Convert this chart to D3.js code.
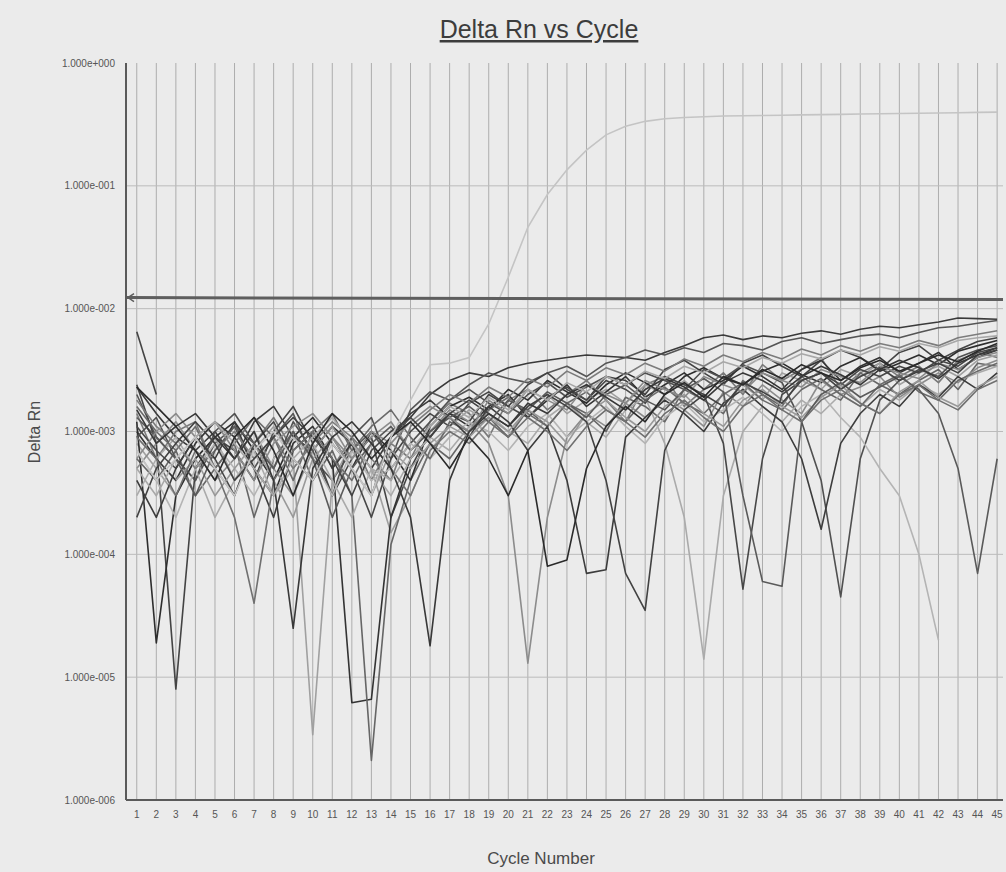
<!DOCTYPE html>
<html>
<head>
<meta charset="utf-8">
<script src="https://cdn.jsdelivr.net/npm/d3@7"></script>
<style>
  body { margin: 0; background: #ebebeb; }
  svg { display: block; font-family: "Liberation Sans", Arial, sans-serif; }
  .grid line { stroke: #adadad; stroke-width: 1; }
  .tick-label { fill: #555; font-size: 10px; }
</style>
</head>
<body>
<svg id="chart" width="1006" height="872"></svg>
<script>
// cycles 1..45, Delta Rn values in units of 1e-4 (null = not plotted, negative on log scale)
var cycles = d3.range(1, 46);
var yTicks = [1e-6, 1e-5, 1e-4, 1e-3, 1e-2, 1e-1, 1];
var threshold = 123;

// the one amplifying well
var ampWell = [7, 4, 6, 9, 5, 3, 7, 10, 6, 4, 8, 5, 3, 9, 18, 35, 36, 40, 75, 180, 460, 850, 1350, 1950, 2600, 3050, 3350, 3520, 3600, 3650, 3700, 3720, 3740, 3760, 3780, 3800, 3820, 3840, 3860, 3880, 3900, 3920, 3940, 3960, 3980];

// baseline wells
var well01 = [23, 14, 9, 7, 10, 6, 12, 16, 9, 7, 11, 8, 5, 9, 13, 20, 26, 30, 28, 33, 36, 38, 40, 42, 41, 40, 38, 44, 50, 58, 61, 56, 60, 58, 63, 66, 62, 68, 72, 70, 74, 78, 84, 83, 82];
var well02 = [20, 9, 6, 4, 8, 11, 5, 9, 14, 6, 4, 7, 10, 6, 15, 21, 18, 24, 30, 27, 25, 30, 34, 28, 36, 40, 46, 42, 48, 44, 52, 50, 46, 54, 58, 52, 56, 60, 62, 58, 64, 70, 72, 76, 80];
var well03 = [14, 6, 10, 12, 5, 3, 8, 13, 7, 10, 5, 9, 4, 8, 6, 12, 17, 14, 9, 18, 22, 15, 20, 26, 18, 12, 24, 28, 16, 22, 30, 20, 35, 26, 32, 40, 22, 30, 36, 28, 34, 25, 38, 44, 40];
var well04 = [24, 8, 0.08, 5, 9, 7, 4, 10, 16, 8, 3, 6, 9, 2, 5, 10, 14, 12, 20, 16, 24, 30, 22, 18, 28, 26, 20, 32, 38, 30, 24, 36, 42, 34, 28, 38, 46, 40, 32, 44, 50, 38, 46, 54, 58];
var well05 = [8, 5, 3, 6, 9, 4, 7, 11, 6, 0.034, 4, 8, 5, 1.5, 3, 7, 11, 15, 12, 9, 16, 20, 14, 18, 22, 17, 24, 20, 26, 19, 28, 24, 18, 30, 26, 22, 32, 28, 36, 24, 30, 34, 28, 38, 42];
var well06 = [10, 6, 4, 8, 12, 9, 5, 3, 8, 11, 6, 0.062, 0.066, 2, 6, 9, 14, 11, 16, 20, 13, 18, 24, 16, 21, 28, 19, 24, 30, 22, 26, 34, 28, 22, 32, 38, 26, 34, 40, 30, 36, 44, 32, 40, 46];
var well07 = [6, 4, 7, 3, 5, 8, 2, 6, 10, 4, 7, 3, 0.021, 1.2, 4, 8, 6, 10, 13, 9, 15, 11, 17, 14, 10, 19, 16, 12, 22, 18, 14, 26, 20, 16, 28, 22, 18, 30, 24, 20, 26, 32, 22, 36, 34];
var well08 = [12, 0.19, 3, 6, 9, 12, 7, 4, 9, 13, 8, 5, 10, 7, 4, 11, 16, 19, 15, 22, 18, 26, 21, 17, 24, 30, 25, 20, 28, 33, 27, 24, 31, 36, 29, 25, 34, 40, 31, 36, 42, 35, 45, 50, 55];
var well09 = [5, 8, 12, 7, 4, 6, 10, 5, 3, 7, 11, 6, 9, 12, 7, 10, 15, 12, 8, 3, 0.13, 2, 9, 14, 11, 17, 13, 19, 15, 11, 21, 16, 24, 18, 14, 26, 20, 23, 28, 19, 24, 30, 25, 33, 38];
var well10 = [9, 13, 6, 4, 10, 14, 8, 5, 12, 7, 3, 9, 13, 5, 8, 12, 18, 22, 17, 14, 20, 25, 19, 23, 28, 24, 30, 26, 22, 32, 27, 35, 30, 25, 12, 4, 0.45, 6, 18, 26, 32, 28, 40, 46, 50];
var well11 = [3, 6, 9, 5, 2, 4, 7, 3, 5, 8, 4, 2, 5, 3, 6, 9, 7, 11, 14, 10, 8, 13, 17, 12, 9, 15, 19, 8, 2, 0.14, 3, 10, 16, 12, 18, 14, 20, 16, 22, 18, 24, 20, 26, 30, 34];
var well12 = [11, 7, 5, 9, 6, 3, 8, 12, 6, 4, 9, 5, 2, 6, 10, 14, 11, 17, 21, 16, 13, 19, 23, 18, 26, 22, 17, 28, 24, 20, 8, 0.52, 6, 20, 26, 30, 24, 32, 28, 34, 30, 38, 34, 44, 48];
var well13 = [7, 4, 2, 5, 8, 5, 3, 6, 9, 6, 3, 7, 4, 5, 8, 6, 9, 12, 10, 7, 11, 14, 9, 12, 16, 11, 8, 13, 17, 12, 15, 19, 14, 10, 16, 20, 13, 9, 5, 3, 1, 0.2, null, null, null];
var well14 = [16, 10, 7, 11, 5, 8, 13, 9, 4, 10, 14, 7, 11, 15, 9, 6, 12, 10, 15, 19, 14, 11, 17, 21, 15, 12, 18, 23, 17, 14, 20, 25, 18, 15, 22, 27, 20, 16, 24, 29, 21, 18, 26, 31, 36];
var well15 = [4, 2, 5, 9, 6, 12, 5, 2, 7, 10, 5, 8, 3, 9, 14, 18, 13, 9, 16, 12, 7, 11, 4, 0.7, 0.75, 9, 13, 18, 14, 10, 17, 22, 16, 12, 6, 1.6, 8, 14, 20, 16, 24, 19, 28, 22, 30];
var well16 = [18, 11, 8, 5, 7, 10, 6, 9, 5, 8, 12, 9, 6, 4, 11, 15, 20, 17, 23, 19, 27, 23, 31, 26, 33, 29, 36, 31, 39, 34, 42, 37, 44, 39, 47, 42, 50, 45, 52, 48, 55, 50, 58, 62, 66];
var well17 = [null, null, 4, 6, 3, 5, 8, 4, 2, 6, 9, 5, 3, 7, 5, 8, 11, 9, 13, 10, 15, 12, 8, 14, 18, 13, 10, 16, 20, 14, 11, 18, 22, 16, 13, 19, 24, 17, 14, 21, 26, 19, 16, 23, 28];
var well18 = [13, 9, 6, 3, 7, 11, 8, 5, 10, 6, 2, 5, 8, 11, 7, 10, 13, 16, 12, 18, 15, 21, 17, 13, 20, 24, 18, 15, 22, 27, 21, 3, 0.6, 0.55, 12, 20, 25, 19, 23, 28, 22, 14, 5, 0.7, 6];
var well19 = [6, 10, 14, 9, 12, 7, 4, 8, 11, 14, 9, 6, 10, 8, 12, 16, 13, 10, 18, 14, 22, 18, 15, 24, 20, 17, 26, 22, 19, 28, 24, 21, 30, 26, 23, 32, 28, 25, 34, 30, 27, 36, 32, 40, 44];
var well20 = [2, 5, 8, 12, 8, 4, 6, 9, 13, 9, 6, 3, 7, 10, 13, 9, 14, 18, 14, 11, 16, 20, 16, 12, 4, 0.7, 0.35, 7, 15, 20, 16, 25, 21, 17, 26, 30, 22, 28, 33, 26, 31, 36, 30, 42, 46];
var well21 = [9, 6, 3, 7, 5, 2, 0.4, 4, 7, 10, 6, 4, 8, 5, 3, 7, 10, 8, 12, 9, 13, 10, 7, 11, 15, 12, 9, 14, 18, 13, 10, 16, 20, 15, 12, 18, 22, 17, 14, 20, 24, 18, 15, 22, 26];
var well22 = [15, 8, 11, 14, 9, 6, 10, 4, 0.25, 5, 9, 12, 8, 5, 2, 0.18, 4, 10, 14, 11, 17, 14, 20, 24, 19, 15, 22, 27, 23, 18, 25, 30, 26, 21, 28, 34, 29, 24, 32, 38, 33, 27, 36, 42, 48];
var well23 = [5, 3, 6, 9, 12, 8, 5, 3, 6, 9, 13, 8, 5, 4, 7, 11, 16, 13, 19, 15, 22, 18, 25, 21, 28, 24, 31, 27, 34, 30, 37, 33, 40, 36, 43, 39, 46, 42, 49, 45, 52, 48, 55, 58, 60];
var well24 = [23, 16, 11, 7, 4, 9, 13, 7, 3, 8, 14, 10, 6, 9, 12, 8, 5, 9, 6, 3, 7, 0.8, 0.9, 5, 11, 16, 12, 20, 25, 19, 28, 24, 32, 27, 35, 30, 26, 33, 38, 31, 36, 42, 37, 45, 52];
var well25 = [65, 20, null, null, null, null, null, null, null, null, null, null, null, null, null, null, null, null, null, null, null, null, null, null, null, null, null, null, null, null, null, null, null, null, null, null, null, null, null, null, null, null, null, null, null];

var wells = [well01, well02, well03, well04, well05, well06, well07, well08, well09, well10, well11, well12, well13,
             well14, well15, well16, well17, well18, well19, well20, well21, well22, well23, well24, well25];
var grays = ["#3a3a3a", "#555", "#7a7a7a", "#444", "#a0a0a0", "#333", "#666", "#2e2e2e", "#8c8c8c", "#505050", "#aaa", "#474747", "#b4b4b4",
             "#6a6a6a", "#3c3c3c", "#7c7c7c", "#999", "#5a5a5a", "#8a8a8a", "#424242", "#707070", "#383838", "#a8a8a8", "#2a2a2a", "#444"];

var svg = d3.select("#chart");
var plotLeft = 126, plotRight = 1003, plotTop = 63, plotBottom = 800;

var x = d3.scaleLinear().domain([0.45, 45.3]).range([plotLeft, plotRight]);
var y = d3.scaleLog().domain([1e-6, 1]).range([plotBottom, plotTop]).clamp(true);

// vertical grid, one per cycle
svg.append("g")
    .attr("class", "grid")
  .selectAll("line")
  .data(cycles)
  .enter().append("line")
    .attr("x1", d => x(d)).attr("x2", d => x(d))
    .attr("y1", plotTop).attr("y2", plotBottom);

// horizontal grid, one per decade
svg.append("g")
    .attr("class", "grid")
  .selectAll("line")
  .data(yTicks.slice(1, -1))
  .enter().append("line")
    .attr("x1", plotLeft).attr("x2", plotRight)
    .attr("y1", d => y(d)).attr("y2", d => y(d))
    .style("stroke", "#bbb");

var line = d3.line()
    .defined(d => d != null)
    .x((d, i) => x(cycles[i]))
    .y(d => y(d * 1e-4));

svg.append("g")
  .selectAll("path")
  .data(wells)
  .enter().append("path")
    .attr("d", line)
    .attr("fill", "none")
    .attr("stroke", (d, i) => grays[i])
    .attr("stroke-width", 1.6)
    .attr("stroke-linejoin", "round");

svg.append("path")
    .attr("d", line(ampWell))
    .attr("fill", "none")
    .attr("stroke", "#c4c4c4")
    .attr("stroke-width", 1.6);

// threshold
var ty = y(threshold * 1e-4);
svg.append("line")
    .attr("x1", plotLeft).attr("x2", plotRight)
    .attr("y1", ty).attr("y2", ty + 2)
    .attr("stroke", "#5e5e5e")
    .attr("stroke-width", 3);
svg.append("path")
    .attr("d", "M" + (plotLeft + 8) + "," + (ty - 4) + "L" + (plotLeft + 2) + "," + ty + "L" + (plotLeft + 8) + "," + (ty + 4))
    .attr("fill", "none").attr("stroke", "#5e5e5e").attr("stroke-width", 1.5);

// axes lines
svg.append("line")
    .attr("x1", plotLeft).attr("x2", plotLeft).attr("y1", plotTop).attr("y2", plotBottom)
    .attr("stroke", "#5a5a5a").attr("stroke-width", 2);
svg.append("line")
    .attr("x1", plotLeft).attr("x2", plotRight).attr("y1", plotBottom).attr("y2", plotBottom)
    .attr("stroke", "#5a5a5a").attr("stroke-width", 2);

// tick labels
svg.append("g")
  .selectAll("text")
  .data(cycles)
  .enter().append("text")
    .attr("class", "tick-label")
    .attr("x", d => x(d))
    .attr("y", 818)
    .attr("text-anchor", "middle")
    .text(d => d);

function sci(v) {
  var e = Math.round(Math.log10(v));
  return "1.000e" + (e < 0 ? "-" : "+") + String(Math.abs(e)).padStart(3, "0");
}

svg.append("g")
  .selectAll("text")
  .data(yTicks)
  .enter().append("text")
    .attr("class", "tick-label")
    .attr("x", 115)
    .attr("y", d => y(d) + 3.5)
    .attr("text-anchor", "end")
    .text(sci);

// titles
svg.append("text")
    .attr("x", 539).attr("y", 38)
    .attr("text-anchor", "middle")
    .style("font-size", "25px")
    .style("fill", "#3c3c3c")
    .style("text-decoration", "underline")
    .text("Delta Rn vs Cycle");

svg.append("text")
    .attr("transform", "translate(40,432) rotate(-90)")
    .attr("text-anchor", "middle")
    .style("font-size", "16px")
    .style("fill", "#4a4a4a")
    .text("Delta Rn");

svg.append("text")
    .attr("x", 541).attr("y", 864)
    .attr("text-anchor", "middle")
    .style("font-size", "17px")
    .style("fill", "#4a4a4a")
    .text("Cycle Number");
</script>
</body>
</html>
